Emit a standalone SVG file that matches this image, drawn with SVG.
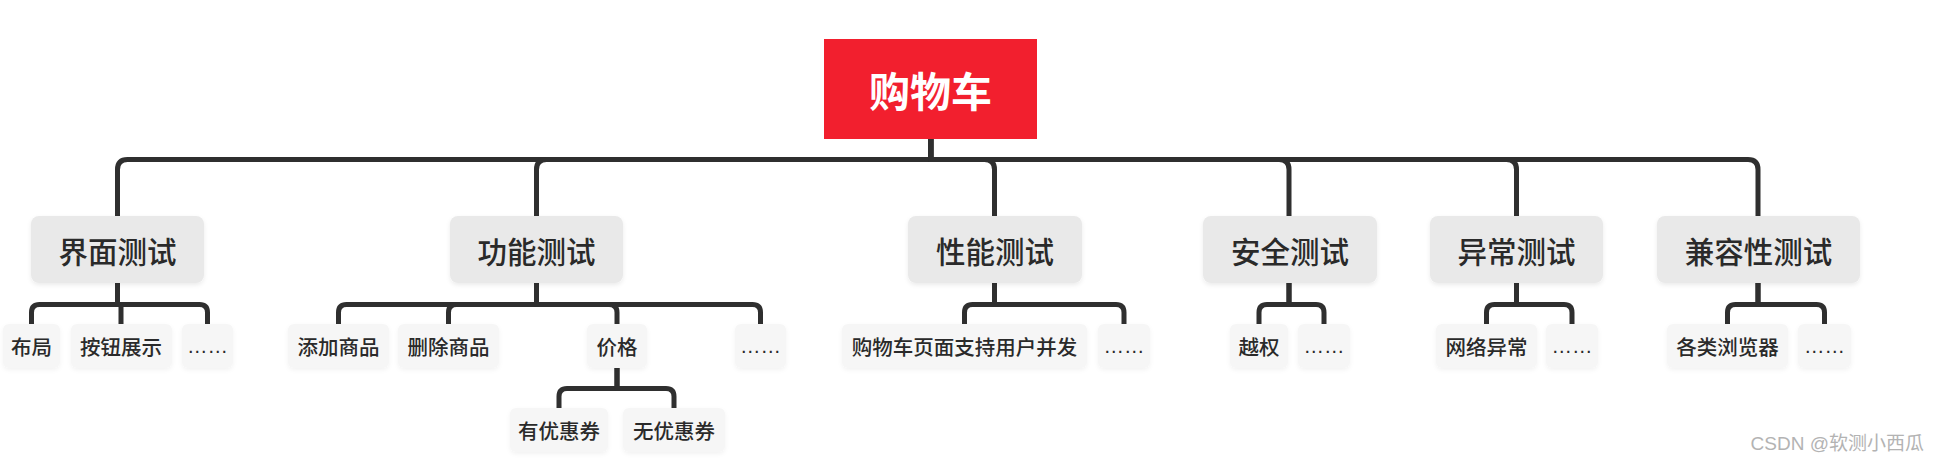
<svg xmlns="http://www.w3.org/2000/svg" width="1940" height="461" viewBox="0 0 1940 461">
<style>
text{font-family:"Noto Sans CJK SC","Noto Sans",sans-serif;fill:#2a2a2a;text-anchor:middle;dominant-baseline:central}
.root rect{fill:#f21f2e}
.root text{fill:#ffffff;font-size:41px;font-weight:bold}
.l1 rect{fill:#e9e9e9;filter:url(#sh)}
.l1 text{font-size:29.5px;font-weight:500}
.l2 rect{fill:#f6f6f6;filter:url(#sh2)}
.l2 text{font-size:20.5px;font-weight:500}
.dots{font-family:"Liberation Sans",sans-serif;font-size:16px;dominant-baseline:auto}
.wm{font-family:"Liberation Sans","Noto Sans CJK SC",sans-serif;font-size:19px;fill:#b3b3b3;text-anchor:end;dominant-baseline:auto}
#connectors path{fill:none;stroke:#2f2f2f;stroke-width:5;stroke-linejoin:round}
</style>
<defs>
<filter id="sh" x="-10%" y="-20%" width="120%" height="150%"><feDropShadow dx="0" dy="2" stdDeviation="2" flood-color="#000" flood-opacity="0.08"/></filter>
<filter id="sh2" x="-10%" y="-20%" width="120%" height="150%"><feDropShadow dx="0" dy="2" stdDeviation="2" flood-color="#000" flood-opacity="0.05"/></filter>
</defs>
<rect width="1940" height="461" fill="#ffffff"/>
<g id="connectors">
<path d="M930.8,139 V159.5 H127.5 Q117.5,159.5 117.5,169.5 V216"/>
<path d="M930.8,139 V159.5 H546.5 Q536.5,159.5 536.5,169.5 V216"/>
<path d="M930.8,139 V159.5 H984.5 Q994.5,159.5 994.5,169.5 V216"/>
<path d="M930.8,139 V159.5 H1279 Q1289,159.5 1289,169.5 V216"/>
<path d="M930.8,139 V159.5 H1506.5 Q1516.5,159.5 1516.5,169.5 V216"/>
<path d="M930.8,139 V159.5 H1748 Q1758,159.5 1758,169.5 V216"/>
<path d="M117.5,283 V304.5 H39.5 Q31.5,304.5 31.5,312.5 V324"/>
<path d="M117.5,283 V304.5 H121 V324"/>
<path d="M117.5,283 V304.5 H199.5 Q207.5,304.5 207.5,312.5 V324"/>
<path d="M536.5,283 V304.5 H346.5 Q338.5,304.5 338.5,312.5 V324"/>
<path d="M536.5,283 V304.5 H456.5 Q448.5,304.5 448.5,312.5 V324"/>
<path d="M536.5,283 V304.5 H609 Q617,304.5 617,312.5 V324"/>
<path d="M536.5,283 V304.5 H752.5 Q760.5,304.5 760.5,312.5 V324"/>
<path d="M994.5,283 V304.5 H972.5 Q964.5,304.5 964.5,312.5 V324"/>
<path d="M994.5,283 V304.5 H1116 Q1124,304.5 1124,312.5 V324"/>
<path d="M1289,283 V304.5 H1267 Q1259,304.5 1259,312.5 V324"/>
<path d="M1289,283 V304.5 H1316 Q1324,304.5 1324,312.5 V324"/>
<path d="M1516.5,283 V304.5 H1494.5 Q1486.5,304.5 1486.5,312.5 V324"/>
<path d="M1516.5,283 V304.5 H1564 Q1572,304.5 1572,312.5 V324"/>
<path d="M1758,283 V304.5 H1735.5 Q1727.5,304.5 1727.5,312.5 V324"/>
<path d="M1758,283 V304.5 H1816.5 Q1824.5,304.5 1824.5,312.5 V324"/>
<path d="M617,368 V388.5 H567 Q559,388.5 559,396.5 V408"/>
<path d="M617,368 V388.5 H666 Q674,388.5 674,396.5 V408"/>
</g>
<g id="root" class="root"><rect x="824" y="39" width="213" height="100"/><text x="930.5" y="89">购物车</text></g>
<g id="n-ui" class="l1"><rect x="31" y="216" width="173" height="67" rx="8"/><text x="117.5" y="250">界面测试</text></g>
<g id="n-func" class="l1"><rect x="450" y="216" width="173" height="67" rx="8"/><text x="536.5" y="250">功能测试</text></g>
<g id="n-perf" class="l1"><rect x="908" y="216" width="174" height="67" rx="8"/><text x="995" y="250">性能测试</text></g>
<g id="n-sec" class="l1"><rect x="1203" y="216" width="174" height="67" rx="8"/><text x="1290" y="250">安全测试</text></g>
<g id="n-exc" class="l1"><rect x="1430" y="216" width="173" height="67" rx="8"/><text x="1516.5" y="250">异常测试</text></g>
<g id="n-compat" class="l1"><rect x="1657" y="216" width="203" height="67" rx="8"/><text x="1758.5" y="250">兼容性测试</text></g>
<g id="n-layout" class="l2"><rect x="3" y="324" width="57" height="44" rx="6"/><text x="31.5" y="346">布局</text></g>
<g id="n-button" class="l2"><rect x="71" y="324" width="101" height="44" rx="6"/><text x="121" y="346">按钮展示</text></g>
<g id="n-ui-more" class="l2"><rect x="182" y="324" width="51" height="44" rx="6"/><text class="dots" x="207.5" y="353">……</text></g>
<g id="n-add" class="l2"><rect x="288" y="324" width="101" height="44" rx="6"/><text x="338.5" y="346">添加商品</text></g>
<g id="n-del" class="l2"><rect x="398" y="324" width="101" height="44" rx="6"/><text x="448.5" y="346">删除商品</text></g>
<g id="n-price" class="l2"><rect x="587" y="324" width="60" height="44" rx="6"/><text x="617" y="346">价格</text></g>
<g id="n-func-more" class="l2"><rect x="735" y="324" width="51" height="44" rx="6"/><text class="dots" x="760.5" y="353">……</text></g>
<g id="n-concur" class="l2"><rect x="842" y="324" width="245" height="44" rx="6"/><text x="964.5" y="346">购物车页面支持用户并发</text></g>
<g id="n-perf-more" class="l2"><rect x="1098" y="324" width="52" height="44" rx="6"/><text class="dots" x="1124" y="353">……</text></g>
<g id="n-auth" class="l2"><rect x="1230" y="324" width="58" height="44" rx="6"/><text x="1259" y="346">越权</text></g>
<g id="n-sec-more" class="l2"><rect x="1298" y="324" width="52" height="44" rx="6"/><text class="dots" x="1324" y="353">……</text></g>
<g id="n-net" class="l2"><rect x="1436" y="324" width="101" height="44" rx="6"/><text x="1486.5" y="346">网络异常</text></g>
<g id="n-exc-more" class="l2"><rect x="1546" y="324" width="52" height="44" rx="6"/><text class="dots" x="1572" y="353">……</text></g>
<g id="n-browser" class="l2"><rect x="1667" y="324" width="121" height="44" rx="6"/><text x="1727.5" y="346">各类浏览器</text></g>
<g id="n-compat-more" class="l2"><rect x="1798" y="324" width="53" height="44" rx="6"/><text class="dots" x="1824.5" y="353">……</text></g>
<g id="n-coupon" class="l2"><rect x="510" y="408" width="98" height="44" rx="6"/><text x="559" y="430">有优惠券</text></g>
<g id="n-nocoupon" class="l2"><rect x="623" y="408" width="102" height="44" rx="6"/><text x="674" y="430">无优惠券</text></g>
<text class="wm" x="1924" y="450">CSDN @软测小西瓜</text>
</svg>
